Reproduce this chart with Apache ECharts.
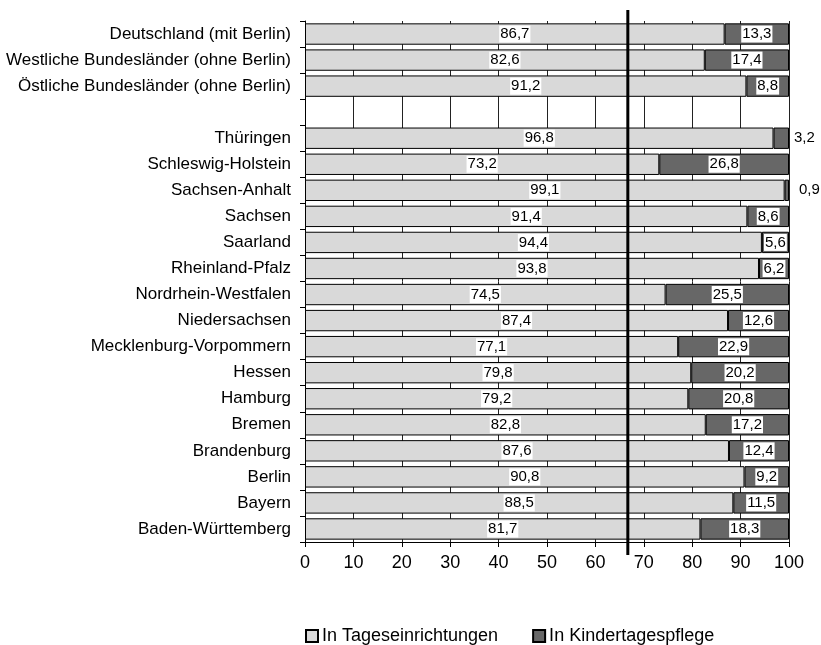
<!DOCTYPE html>
<html><head><meta charset="utf-8">
<script src="https://cdn.jsdelivr.net/npm/echarts@6/dist/echarts.min.js"></script>
<style>html,body{margin:0;padding:0;background:#fff}#c{width:821px;height:645px}</style>
</head><body><div id="c"></div>
<script>
const categories = ['Deutschland (mit Berlin)','Westliche Bundesländer (ohne Berlin)','Östliche Bundesländer (ohne Berlin)','',
 'Thüringen','Schleswig-Holstein','Sachsen-Anhalt','Sachsen','Saarland','Rheinland-Pfalz','Nordrhein-Westfalen','Niedersachsen',
 'Mecklenburg-Vorpommern','Hessen','Hamburg','Bremen','Brandenburg','Berlin','Bayern','Baden-Württemberg'];
const tageseinrichtungen = [86.7,82.6,91.2,null,96.8,73.2,99.1,91.4,94.4,93.8,74.5,87.4,77.1,79.8,79.2,82.8,87.6,90.8,88.5,81.7];
const kindertagespflege = [13.3,17.4,8.8,null,3.2,26.8,0.9,8.6,5.6,6.2,25.5,12.6,22.9,20.2,20.8,17.2,12.4,9.2,11.5,18.3];
const referenceLine = 66.7;
const seriesNames = ['In Tageseinrichtungen','In Kindertagespflege'];

const FONT = 'Liberation Sans, Arial, sans-serif';
const fmt = v => String(v.toFixed(1)).replace('.', ',');
const baseLabel = {show:true, position:'inside', color:'#000', fontSize:15, fontFamily:FONT,
  backgroundColor:'#fff', padding:[2,1,0,1], formatter: p => p.value==null ? '' : fmt(p.value)};

const darkData = kindertagespflege.map(v => {
  if (v == null) return null;
  if (v < 4) return {value:v, label:{position:'right', distance: v<2 ? 9 : 4, backgroundColor:'transparent'}};
  return v;
});

const chart = echarts.init(document.getElementById('c'));
chart.setOption({
  animation:false,
  textStyle:{fontFamily:FONT},
  grid:{left:305, right:32, top:21, bottom:103, containLabel:false},
  xAxis:{type:'value', min:0, max:100, interval:10,
    axisLine:{show:true, lineStyle:{color:'#000', width:1}},
    axisTick:{show:true, length:5, lineStyle:{color:'#000'}},
    axisLabel:{color:'#000', fontSize:18, margin:12, fontFamily:FONT},
    splitLine:{show:true, lineStyle:{color:'#222', width:1}}},
  yAxis:{type:'category', data:categories, inverse:true,
    axisLine:{show:true, lineStyle:{color:'#000', width:1}},
    axisTick:{show:true, length:5, lineStyle:{color:'#000'}},
    axisLabel:{color:'#000', fontSize:17, margin:14, fontFamily:FONT}},
  legend:{bottom:-5, left:300, itemWidth:12, itemHeight:12, itemGap:34,
    textStyle:{color:'#000', fontSize:18, fontFamily:FONT, padding:[0,0,0,-1]},
    data:seriesNames.map(n=>({name:n, icon:'rect'}))},
  series:[
    {name:seriesNames[0], type:'bar', stack:'a', data:tageseinrichtungen, barCategoryGap:'18%',
      itemStyle:{color:'#d9d9d9', borderColor:'#000', borderWidth:1}, label:baseLabel},
    {name:seriesNames[1], type:'bar', stack:'a', data:darkData,
      itemStyle:{color:'#676767', borderColor:'#000', borderWidth:1}, label:baseLabel},
    {type:'custom', name:'ref', data:[[referenceLine, 0]], clip:false, z:10, silent:true,
      encode:{x:0, y:1},
      renderItem:(params, api) => {
        const p = api.coord([api.value(0), 0]);
        const cs = params.coordSys;
        return {type:'line', shape:{x1:p[0], y1:cs.y-11, x2:p[0], y2:cs.y+cs.height+13},
          style:{stroke:'#000', lineWidth:3}};
      }}
  ]
});
</script></body></html>
